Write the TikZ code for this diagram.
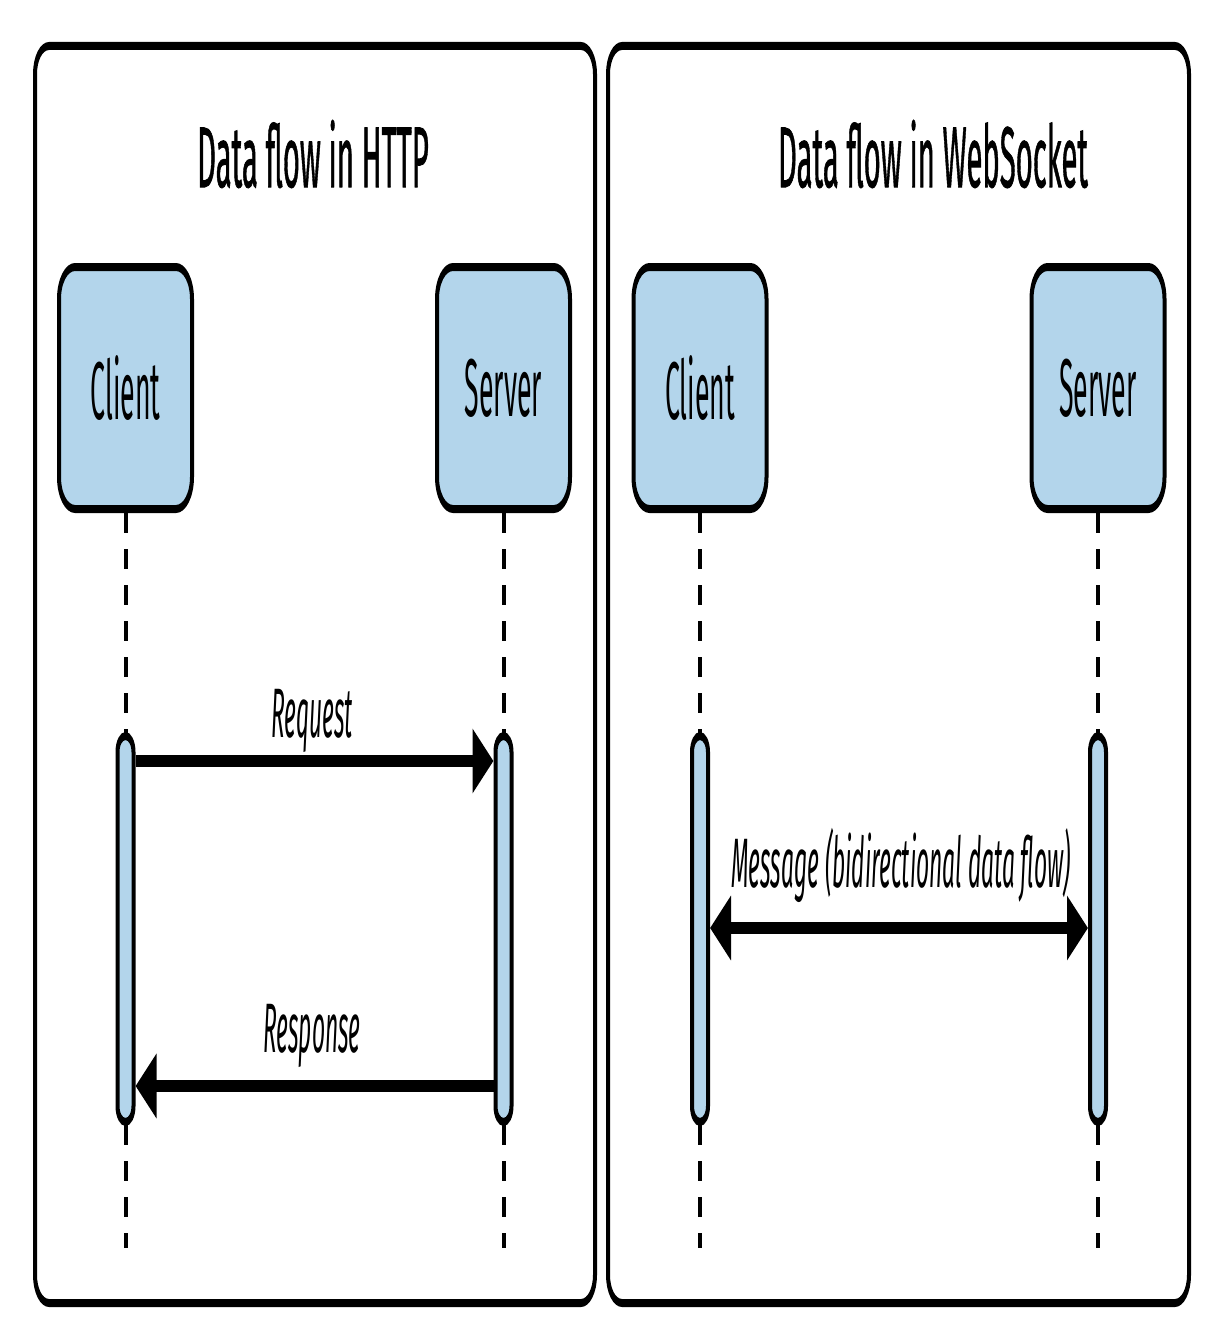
\documentclass[tikz,border=0pt]{standalone}
\usepackage{fontspec}
\setmainfont{Fira Sans}
\newfontfamily\titlefont[FakeBold=1.2]{Fira Sans}
\usetikzlibrary{arrows.meta,calc}
\definecolor{barblue}{RGB}{179,213,235}
\newcommand{\ttltxt}[1]{{\titlefont\fontsize{43}{50}\selectfont\scalebox{0.68}[1]{#1}}}
\newcommand{\boxtxt}[1]{{\fontsize{41}{48}\selectfont\scalebox{0.65}[1]{#1}}}
\newcommand{\lbltxt}[1]{{\fontsize{35}{42}\selectfont\itshape\scalebox{0.65}[1]{#1}}}
\begin{document}
\begin{tikzpicture}[x=1pt,y=-1pt]
\useasboundingbox (0,0) rectangle (1224,1338);
\begin{scope}[y=-0.5pt, transform canvas={yscale=2},
  panel/.style={draw=black, line width=4pt, rounded corners=14pt},
  actor/.style={draw=black, fill=barblue, line width=4pt, rounded corners=16pt,
    minimum width=133pt, minimum height=121pt, inner sep=0pt},
  bar/.style={draw=black, fill=barblue, line width=4pt, rounded corners=8pt,
    minimum width=16pt, minimum height=193pt, inner sep=0pt},
  life/.style={draw=black, line width=4pt, dash pattern=on 10pt off 8pt},
  msg/.style={draw=black, line width=6pt, -{Triangle[length=21pt,width=31pt]}},
  bimsg/.style={draw=black, line width=6pt, {Triangle[length=21pt,width=31pt]}-{Triangle[length=21pt,width=31pt]}},
  lbl/.style={anchor=base, inner sep=0pt}
  ]
  % panels
  \draw[panel] (35,46) rectangle (595,1303);
  \draw[panel] (608,46) rectangle (1189,1303);
  % titles
  \node[lbl] (t1) at (313,187) {\ttltxt{Data flow in HTTP}};
  \node[lbl] (t2) at (933,187) {\ttltxt{Data flow in WebSocket}};
  % actors
  \node[actor] (c1) at (125.5,388) {\boxtxt{Client}};
  \node[actor] (s1) at (503.5,388) {\boxtxt{Server}};
  \node[actor] (c2) at (700,388) {\boxtxt{Client}};
  \node[actor] (s2) at (1098,388) {\boxtxt{Server}};
  % lifeline ends
  \coordinate (lend) at (0,1248);
  \coordinate (e1) at (c1.south |- lend);
  \coordinate (e2) at (s1.south |- lend);
  \coordinate (e3) at (c2.south |- lend);
  \coordinate (e4) at (s2.south |- lend);
  \draw[life] (c1.south) -- (e1);
  \draw[life] (s1.south) -- (e2);
  \draw[life] (c2.south) -- (e3);
  \draw[life] (s2.south) -- (e4);
  % activation bars
  \node[bar] (cb1) at (125.5,929) {};
  \node[bar] (sb1) at (503.5,929) {};
  \node[bar] (cb2) at (700,929) {};
  \node[bar] (sb2) at (1098,929) {};
  % messages
  \coordinate (ry) at (0,761);
  \coordinate (sy) at (0,1086);
  \coordinate (my) at (0,928);
  \draw[msg] (cb1.east |- ry) -- (sb1.west |- ry);
  \draw[msg] (sb1.west |- sy) -- (cb1.east |- sy);
  \draw[bimsg] (cb2.east |- my) -- (sb2.west |- my);
  % labels
  \node[lbl] (lr) at (312,737) {\lbltxt{Request}};
  \node[lbl] (ls) at (312,1052) {\lbltxt{Response}};
  \node[lbl] (lm) at (901,887) {\lbltxt{Message (bidirectional data flow)}};
\end{scope}
\end{tikzpicture}
\end{document}
